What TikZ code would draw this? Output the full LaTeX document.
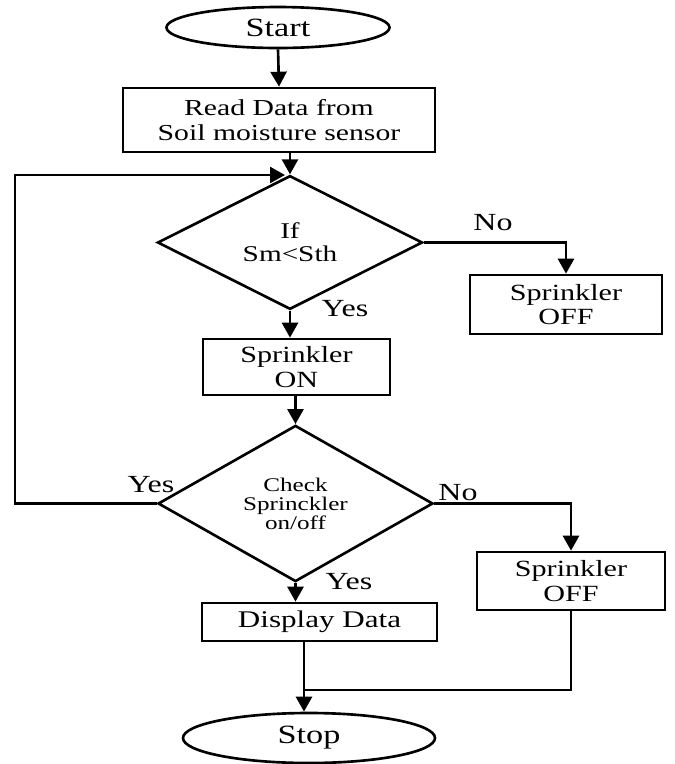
\documentclass[tikz,border=0pt]{standalone}
\usepackage{fontspec}
\setmainfont[FakeStretch=1.3]{Liberation Serif}
\usepackage{tikz}
\usetikzlibrary{shapes.geometric,arrows.meta,positioning}

\begin{document}
\begin{tikzpicture}[line width=0.75pt,
  arr/.style={-{Triangle[length=0.15cm,width=0.16cm]}},
  term/.style={draw, ellipse, inner sep=0pt},
  proc/.style={draw, rectangle, inner sep=0pt, align=center, font=\fontsize{6.6}{7}\selectfont},
  dec/.style={draw, diamond, inner sep=0pt, align=center},
  lbl/.style={font=\fontsize{7}{8}\selectfont}]
  \useasboundingbox (0,0) rectangle (6.75,-7.64);
  \node[term, minimum width=2.23cm, minimum height=0.41cm, font=\fontsize{7.5}{8}\selectfont] (start) at (2.78,-0.275) {Start};
  \node[proc, minimum width=3.12cm, minimum height=0.64cm, font=\fontsize{6.5}{7.1}\selectfont] (read) at (2.79,-1.20) {Read Data from\\Soil moisture sensor};
  \node[dec, minimum width=2.65cm, minimum height=1.07cm, font=\fontsize{6.4}{6.6}\selectfont] (if1) at (2.90,-2.425) {If\\Sm<Sth};
  \node[proc, minimum width=1.92cm, minimum height=0.59cm] (off1) at (5.66,-3.045) {Sprinkler\\OFF};
  \node[proc, minimum width=1.87cm, minimum height=0.56cm] (on) at (2.965,-3.67) {Sprinkler\\ON};
  \node[dec, minimum width=2.75cm, minimum height=1.27cm, font=\fontsize{5.5}{5.4}\selectfont] (check) at (2.955,-5.035) {Check\\Sprinckler\\on/off};
  \node[proc, minimum width=1.88cm, minimum height=0.58cm] (off2) at (5.71,-5.81) {Sprinkler\\OFF};
  \node[proc, minimum width=2.35cm, minimum height=0.38cm, font=\fontsize{6.8}{7}\selectfont] (disp) at (3.195,-6.22) {Display Data};
  \node[term, minimum width=2.52cm, minimum height=0.50cm, font=\fontsize{7.5}{8}\selectfont] (stop) at (3.09,-7.38) {Stop};

  \coordinate (lcorner) at (0.15,-1.75);
  \coordinate (ljoin) at (2.85,-1.75);
  \coordinate (sjoin) at (3.04,-6.90);

  \draw[arr] (start.south) -- (read.north);
  \draw[arr] (read.south -| if1.north) -- (if1.north);
  \draw[arr] (if1.east) -| (off1.north);
  \draw[arr] (if1.south) -- (if1.south |- on.north);
  \draw[arr] (on.south -| check.north) -- (check.north);
  \draw[arr] (check.west) -| (lcorner) -- (ljoin);
  \draw[arr] (check.east) -| (off2.north);
  \draw[arr] (check.south) -- (check.south |- disp.north);
  \draw[arr] (disp.south -| sjoin) -- (sjoin |- stop.north);
  \draw (off2.south) |- (sjoin);

  \node[lbl] (no1) at (4.93,-2.23) {No};
  \node[lbl] (yes1) at (3.45,-3.09) {Yes};
  \node[lbl] (yes2) at (1.51,-4.85) {Yes};
  \node[lbl] (no2) at (4.58,-4.93) {No};
  \node[lbl] (yes3) at (3.49,-5.82) {Yes};
\end{tikzpicture}
\end{document}
